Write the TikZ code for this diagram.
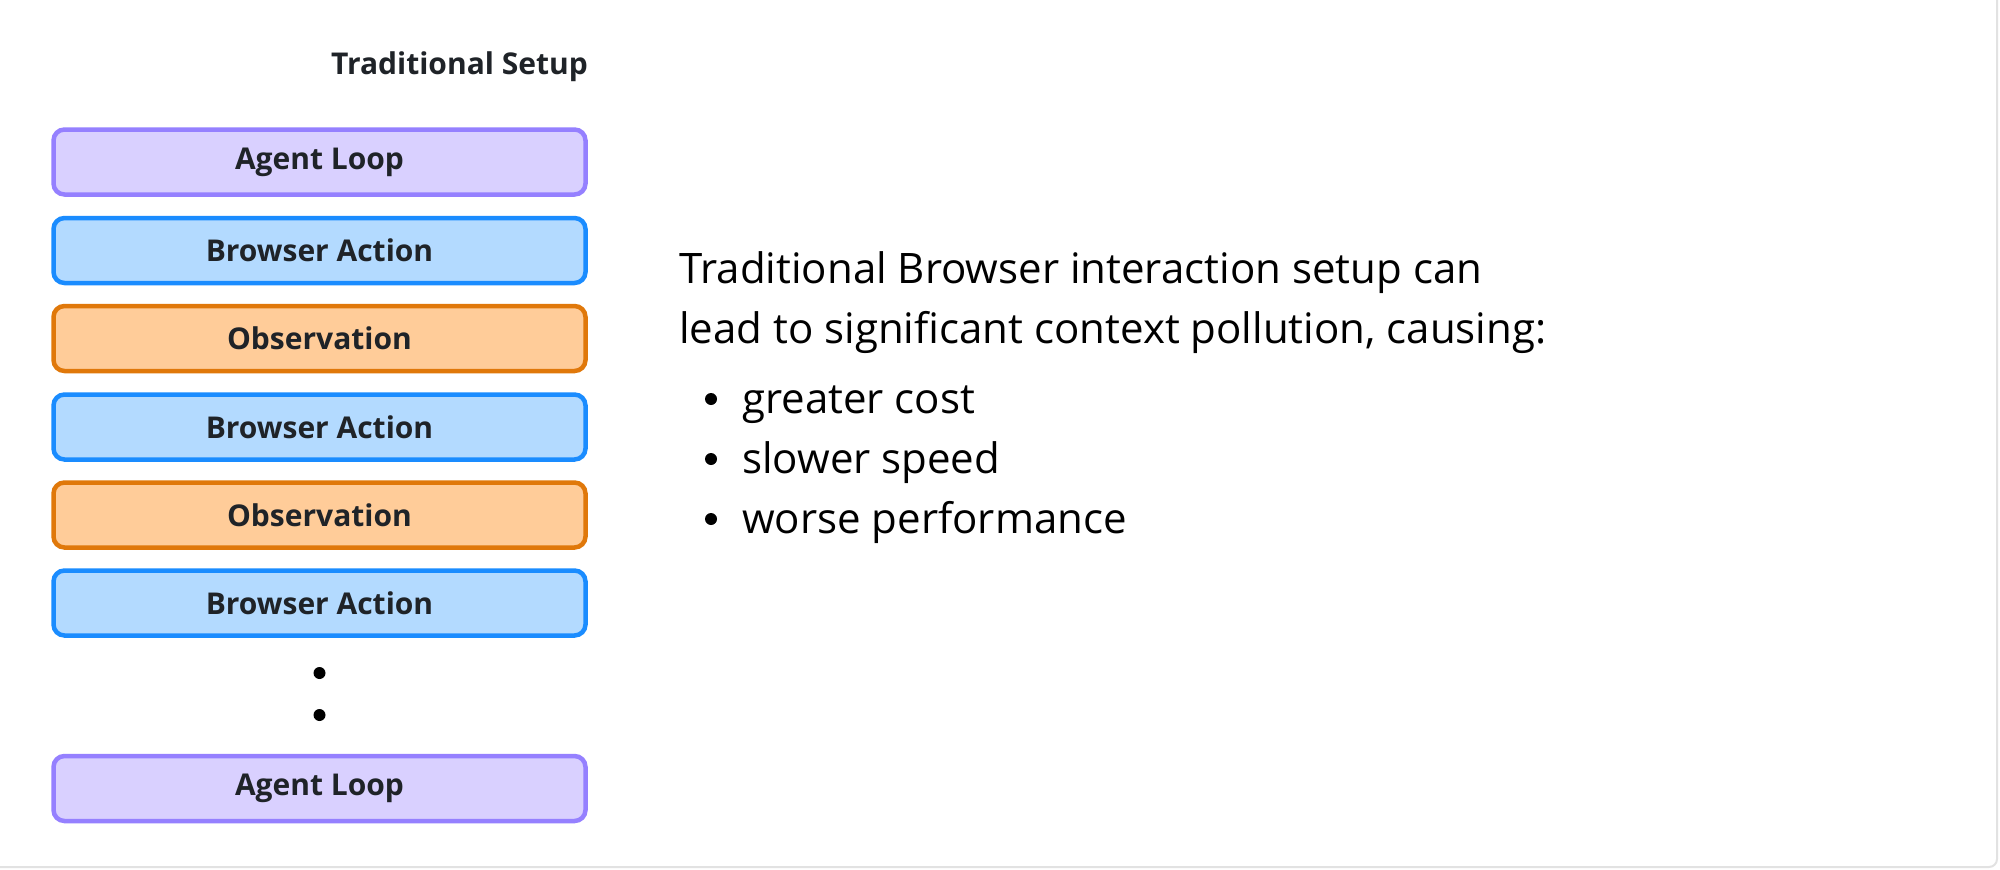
\documentclass[tikz,border=0pt]{standalone}
\usepackage{fontspec}
\setmainfont{Open Sans}
\definecolor{txt}{HTML}{1F2328}
\definecolor{pfill}{HTML}{D9D0FF}
\definecolor{pdraw}{HTML}{9580FF}
\definecolor{bfill}{HTML}{B3DAFF}
\definecolor{bdraw}{HTML}{1A8CFF}
\definecolor{ofill}{HTML}{FFCC99}
\definecolor{odraw}{HTML}{E0780A}
\definecolor{frame}{HTML}{E2E2E2}
\tikzset{
  box/.style={rounded corners=11pt, line width=4.5pt, minimum width=532pt, minimum height=65pt, inner sep=0pt, font=\fontsize{30}{34}\selectfont\bfseries, text=txt},
  agent/.style={box, fill=pfill, draw=pdraw},
  browser/.style={box, fill=bfill, draw=bdraw},
  obsv/.style={box, fill=ofill, draw=odraw},
  body/.style={font=\fontsize{42}{50}\selectfont, text=black, anchor=base west, inner sep=0pt},
  vdot/.style={circle, fill=black, minimum size=12pt, inner sep=0pt}
}
\begin{document}
\begin{tikzpicture}[x=1pt, y=-1pt]
\useasboundingbox (0,0) rectangle (2000,870);
\fill[white] (0,0) rectangle (2000,870);
\draw[frame, line width=2pt, rounded corners=8pt] (-20,-20) rectangle (1997,867);
\node[anchor=east, inner sep=0pt, font=\fontsize{30}{34}\selectfont\bfseries, text=txt] (title) at (588,67) {Traditional Setup};
\node[agent] (a1) at (319.5,162) {Agent Loop};
\node[browser] (b1) at (319.5,250.5) {Browser Action};
\node[obsv] (o1) at (319.5,338.5) {Observation};
\node[browser] (b2) at (319.5,427) {Browser Action};
\node[obsv] (o2) at (319.5,515) {Observation};
\node[browser] (b3) at (319.5,603) {Browser Action};
\node[vdot] (d1) at (319.5,673) {};
\node[vdot] (d2) at (319.5,715) {};
\node[agent] (a2) at (319.5,788.5) {Agent Loop};
\node[body] (l1) at (679,283) {Traditional Browser interaction setup can};
\node[body] (l2) at (679,343) {lead to significant context pollution, causing:};
\node[vdot] (p1) at (711,399) {};
\node[vdot] (p2) at (711,459) {};
\node[vdot] (p3) at (711,519) {};
\node[body] (i1) at (742,413) {greater cost};
\node[body] (i2) at (742,473) {slower speed};
\node[body] (i3) at (742,533) {worse performance};
\end{tikzpicture}
\end{document}
